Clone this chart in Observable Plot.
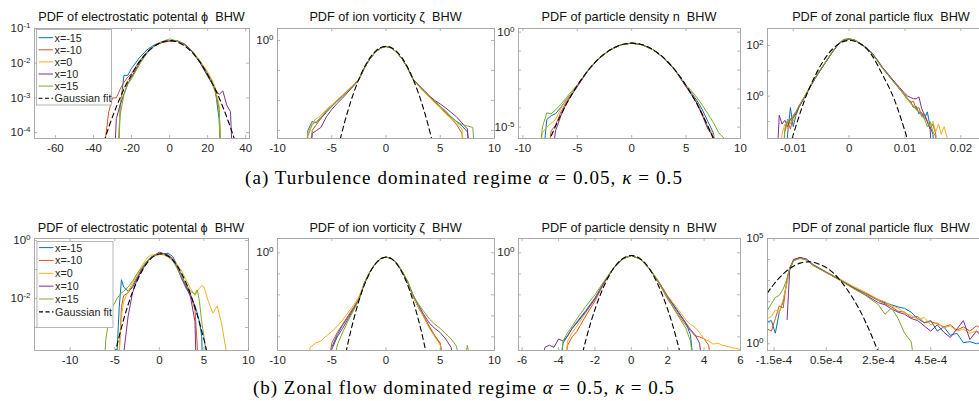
<!DOCTYPE html>
<html><head><meta charset="utf-8">
<script src="https://cdn.jsdelivr.net/npm/d3@7"></script>
<script src="https://cdn.jsdelivr.net/npm/@observablehq/plot@0.6"></script>
<style>
html,body{margin:0;padding:0;background:#fff;}
#root{position:relative;width:979px;height:401px;overflow:hidden;background:#fff;}
#root svg.plotsvg{position:absolute;}
#overlay{position:absolute;left:0;top:0;pointer-events:none;}
#overlay text{white-space:pre;}
</style></head><body><div id="root"></div>
<script>
// ---------------- DATA (values are log10 of the PDF) ----------------
const seriesNames = ["x=-15", "x=-10", "x=0", "x=10", "x=15"];
const gaussName = "Gaussian fit";

// (a) turbulence dominated, panel 1: electrostatic potential
const a1_x = [-36,-34,-32,-30,-28,-26,-24,-22,-20,-16,-12,-8,-4,0,4,8,12,16,20,22,24,26,28,30,32,34,36];
const a1_m15 = [-6,-6,-6,-6,-6,-3.3,-2.35,-2.35,-2.15,-1.85,-1.62,-1.47,-1.38,-1.37,-1.37,-1.47,-1.68,-1.98,-2.38,-2.55,-2.75,-3.6,-6,-6,-6,-6,-6];
const a1_m10 = [-6,-4.3,-3.4,-3.0,-3.0,-2.75,-2.55,-2.4,-2.3,-1.95,-1.68,-1.5,-1.4,-1.36,-1.36,-1.46,-1.66,-1.95,-2.3,-2.5,-2.8,-3.3,-6,-6,-6,-6,-6];
const a1_0   = [-6,-6,-6,-6,-6,-3.2,-2.7,-2.5,-2.4,-2.0,-1.7,-1.5,-1.4,-1.37,-1.36,-1.45,-1.65,-1.93,-2.25,-2.45,-2.7,-3.2,-6,-6,-6,-6,-6];
const a1_p10 = [-6,-6,-6,-6,-3.6,-3.2,-2.9,-2.6,-2.4,-2.02,-1.7,-1.5,-1.4,-1.36,-1.35,-1.45,-1.66,-1.98,-2.35,-2.55,-2.75,-2.9,-2.8,-3.2,-3.4,-6,-6];
const a1_p15 = [-6,-6,-6,-6,-6,-3.5,-2.9,-2.6,-2.45,-2.05,-1.72,-1.5,-1.38,-1.3,-1.36,-1.48,-1.68,-1.95,-2.3,-2.5,-2.85,-3.3,-6,-6,-6,-6,-6];
const a1_gx = [-36,-32,-28,-24,-20,-16,-12,-8,-4,0,4,8,12,16,20,24,28,32,36];
const a1_gy = [-4.51,-3.85,-3.26,-2.75,-2.33,-1.97,-1.70,-1.51,-1.39,-1.35,-1.39,-1.51,-1.70,-1.97,-2.33,-2.75,-3.26,-3.85,-4.51];
const a1_xticks = [-60,-40,-20,0,20,40];
const a1_yticks = [-1,-2,-3,-4];
const a1_ylabels = [-1,-2,-3,-4];

// (a) panel 2: ion vorticity
const a2_x = [-7.6,-7.2,-6.8,-6.4,-6,-5.5,-5,-4.5,-4,-3.5,-3,-2.5,-2,-1.5,-1,-0.5,0,0.5,1,1.5,2,2.5,3,3.5,4,4.5,5,5.5,6,6.5,7,7.5,8,8.4];
const a2_m15 = [-5,-3.0,-2.7,-2.75,-2.6,-2.4,-2.2,-2.02,-1.85,-1.65,-1.5,-1.3,-0.92,-0.62,-0.4,-0.25,-0.2,-0.25,-0.4,-0.62,-0.93,-1.3,-1.5,-1.7,-1.88,-2.05,-2.2,-2.4,-2.55,-2.7,-2.85,-3.05,-5,-5];
const a2_m10 = [-5,-5,-3.0,-2.8,-2.6,-2.35,-2.18,-2.0,-1.84,-1.66,-1.5,-1.3,-0.92,-0.62,-0.4,-0.25,-0.2,-0.25,-0.4,-0.62,-0.92,-1.3,-1.5,-1.68,-1.86,-2.03,-2.2,-2.4,-2.6,-2.8,-3.1,-5,-5,-5];
const a2_0   = [-5,-3.1,-2.75,-2.6,-2.5,-2.3,-2.15,-1.98,-1.82,-1.64,-1.48,-1.3,-0.92,-0.62,-0.4,-0.25,-0.2,-0.25,-0.4,-0.62,-0.92,-1.3,-1.52,-1.72,-1.9,-2.08,-2.25,-2.45,-2.6,-2.75,-2.95,-5,-5,-5];
const a2_p10 = [-5,-5,-3.1,-3.0,-2.9,-2.55,-2.3,-2.1,-1.92,-1.72,-1.52,-1.32,-0.92,-0.62,-0.4,-0.25,-0.2,-0.25,-0.4,-0.62,-0.92,-1.3,-1.48,-1.66,-1.85,-2.0,-2.12,-2.25,-2.4,-2.55,-2.75,-2.95,-5,-5];
const a2_p15 = [-5,-3.2,-2.8,-2.7,-2.55,-2.35,-2.2,-2.02,-1.86,-1.67,-1.5,-1.31,-0.92,-0.62,-0.4,-0.25,-0.19,-0.25,-0.4,-0.62,-0.92,-1.3,-1.5,-1.69,-1.87,-2.04,-2.2,-2.35,-2.55,-2.7,-2.8,-2.85,-2.9,-5];
const a2_gx = [-4.4,-4,-3.5,-3,-2.5,-2,-1.5,-1,-0.5,0,0.5,1,1.5,2,2.5,3,3.5,4,4.4];
const a2_gy = [-3.57,-2.98,-2.33,-1.77,-1.29,-0.90,-0.59,-0.37,-0.24,-0.20,-0.24,-0.37,-0.59,-0.90,-1.29,-1.77,-2.33,-2.98,-3.57];
const a2_xticks = [-10,-5,0,5,10];
const a2_yticks = [0,-1,-2,-3];
const a2_ylabels = [0];

// (a) panel 3: particle density
const a3_x = [-8.6,-8.2,-7.8,-7.4,-7,-6.5,-6,-5.5,-5,-4,-3,-2,-1,0,1,2,3,4,5,5.5,6,6.5,7,7.5,8,8.5,9];
const a3_m15 = [-7,-7,-4.6,-4.4,-4.3,-3.95,-3.55,-3.2,-2.82,-2.0,-1.38,-0.94,-0.67,-0.58,-0.67,-0.94,-1.38,-2.0,-2.85,-3.2,-3.6,-4.1,-4.7,-5.3,-7,-7,-7];
const a3_m10 = [-7,-7,-7,-5.2,-4.9,-4.2,-3.65,-3.25,-2.85,-2.01,-1.38,-0.94,-0.67,-0.58,-0.67,-0.94,-1.38,-2.01,-2.85,-3.25,-3.7,-4.3,-5.0,-5.5,-7,-7,-7];
const a3_0   = [-7,-5.3,-5.0,-4.8,-4.6,-4.0,-3.55,-3.22,-2.84,-2.0,-1.38,-0.94,-0.67,-0.58,-0.67,-0.94,-1.38,-2.0,-2.85,-3.25,-3.7,-4.3,-4.95,-5.4,-7,-7,-7];
const a3_p10 = [-7,-7,-7,-7,-5.2,-4.4,-3.75,-3.3,-2.87,-2.02,-1.39,-0.94,-0.67,-0.58,-0.67,-0.94,-1.39,-2.02,-2.88,-3.3,-3.75,-4.4,-5.1,-5.5,-7,-7,-7];
const a3_p15 = [-7,-5.0,-4.25,-4.3,-4.1,-3.8,-3.45,-3.1,-2.78,-1.98,-1.37,-0.94,-0.67,-0.57,-0.67,-0.94,-1.37,-1.98,-2.8,-3.1,-3.45,-3.85,-4.3,-4.75,-5.3,-5.6,-7];
const a3_gx = [-8,-7,-6,-5,-4,-3,-2,-1,0,1,2,3,4,5,6,7,8];
const a3_gy = [-6.29,-4.95,-3.79,-2.81,-2.01,-1.38,-0.94,-0.67,-0.58,-0.67,-0.94,-1.38,-2.01,-2.81,-3.79,-4.95,-6.29];
const a3_xticks = [-10,-5,0,5,10];
const a3_yticks = [0,-1,-2,-3,-4,-5];
const a3_ylabels = [0,-5];

// (a) panel 4: zonal particle flux (x in units of 1e-3)
const a4_xk = [-13,-12.5,-12,-11.5,-11,-10.5,-10,-9.5,-9,-8,-7,-6,-5,-4,-3,-2,-1,0,1,2,3,4,5,6,7,8,9,10,10.5,11,11.5,12,12.5,13,13.5,14,14.5,15,15.5,16,16.5,17,17.5,18];
const a4_m15 = [-3,-3,-3,-3,-1.5,-0.45,-1.2,-0.75,-0.45, -0.05,0.35,0.73,1.07,1.4,1.73,2.03,2.21,2.25,2.2,2.06,1.9,1.7,1.42,1.1,0.84,0.56,0.3,0.02, -0.15,-0.2,-0.45,-0.4,-0.7,-0.65,-0.9,-0.62,-1.2,-1.5,-3,-3,-3,-3,-3,-3];
const a4_m10 = [-3,-3,-3,-1.4,-1.0,-1.3,-0.8,-0.65,-0.4, -0.02,0.37,0.76,1.09,1.42,1.75,2.05,2.23,2.26,2.21,2.07,1.92,1.71,1.43,1.1,0.83,0.57,0.3,0.05, -0.1,-0.25,-0.2,-0.5,-0.45,-0.8,-0.7,-1.0,-1.3,-1.1,-1.5,-3,-3,-3,-3,-3];
const a4_0   = [-3,-3,-1.5,-1.1,-1.3,-0.9,-1.0,-0.7,-0.45, -0.05,0.35,0.74,1.08,1.41,1.74,2.04,2.22,2.25,2.21,2.08,1.92,1.72,1.44,1.12,0.85,0.58,0.3,0.0, -0.12,-0.3,-0.35,-0.55,-0.6,-0.8,-0.85,-1.0,-1.2,-1.0,-1.4,-1.1,-1.5,-1.2,-1.6,-3];
const a4_p10 = [-3,-0.75,-1.1,-0.95,-1.2,-0.9,-0.85,-0.7,-0.45, -0.06,0.34,0.73,1.07,1.4,1.73,2.03,2.21,2.25,2.22,2.08,1.93,1.73,1.45,1.13,0.87,0.6,0.35,0.1, 0.0,-0.05,-0.1,-0.1,-0.03,-0.5,-0.75,-1.0,-1.3,-3,-3,-3,-3,-3,-3,-3];
const a4_p15 = [-3,-3,-3,-1.3,-0.9,-1.1,-0.75,-0.6,-0.4, -0.03,0.37,0.76,1.09,1.42,1.75,2.05,2.24,2.27,2.22,2.07,1.91,1.7,1.41,1.09,0.82,0.55,0.28,0.0, -0.15,-0.25,-0.4,-0.52,-0.6,-0.75,-0.9,-1.2,-1.0,-1.4,-1.6,-3,-3,-3,-3,-3];
const a4_gxk = [-11,-10,-8,-6,-4,-2,0,2,4,6,8,10,11];
const a4_gy = [-2.3,-1.53,-0.18,0.84,1.59,2.04,2.2,2.07,1.64,0.84,-0.08,-1.38,-2.14];
const a4_xticks = [-0.01,0,0.01,0.02];
const a4_yticks = [2,1,0,-1];
const a4_ylabels = [2,0];

// (b) zonal flow dominated, panel 1: electrostatic potential
const b1_x = [-6.5,-6,-5.5,-5,-4.75,-4.5,-4.25,-4,-3.5,-3,-2.5,-2,-1.5,-1,-0.5,0,0.5,1,1.5,2,2.5,3,3.5,4,4.25,4.5,4.75,5,5.25,5.5,6,6.5,7,7.5,8];
const b1_m15 = [-6,-6,-6,-6,-3.9,-2.3,-1.35,-1.6, -1.75,-1.62,-1.3,-1.05,-0.8,-0.6,-0.5,-0.46,-0.45,-0.44,-0.55,-0.85,-1.2,-1.55,-1.9,-2.25, -2.5,-2.8,-3.3,-6,-6,-6, -6,-6,-6,-6,-6];
const b1_m10 = [-6,-6,-6,-6,-6,-3.9,-2.3,-1.9, -1.8,-1.55,-1.25,-1.0,-0.78,-0.6,-0.52,-0.48,-0.45,-0.5,-0.62,-0.9,-1.3,-1.65,-1.85,-2.4, -3.6,-6,-6,-6,-6,-6, -6,-6,-6,-6,-6];
const b1_0   = [-6,-6,-6,-6,-6,-3.8,-2.6,-2.1, -1.75,-1.45,-1.15,-0.9,-0.65,-0.5,-0.5,-0.47,-0.5,-0.58,-0.7,-0.82,-1.05,-1.35,-1.65,-1.9, -1.75,-1.65,-1.55,-1.6,-1.85,-2.1, -2.5,-2.25,-2.9,-3.8,-6];
const b1_p10 = [-6,-6,-6,-6,-6,-6,-6,-3.9, -2.6,-1.8,-1.35,-1.0,-0.75,-0.58,-0.5,-0.4,-0.45,-0.5,-0.65,-0.95,-1.3,-1.6,-1.95,-2.8, -6,-6,-6,-6,-6,-6, -6,-6,-6,-6,-6];
const b1_p15 = [-6,-3.4,-2.4,-2.15,-2.0,-1.9,-1.8,-1.75, -1.6,-1.4,-1.15,-0.95,-0.75,-0.6,-0.5,-0.45,-0.47,-0.55,-0.7,-0.95,-1.25,-1.5,-1.75,-1.85, -1.7,-2.1,-2.8,-3.3,-3.9,-6, -6,-6,-6,-6,-6];
const b1_gx = [-5,-4,-3,-2,-1,0,1,2,3,4,5,5.5];
const b1_gy = [-3.92,-2.72,-1.77,-1.08,-0.64,-0.465,-0.54,-0.87,-1.46,-2.31,-3.41,-4.06];
const b1_xticks = [-10,-5,0,5,10];
const b1_yticks = [0,-1,-2,-3];
const b1_ylabels = [0,-2];

// (b) panel 2: ion vorticity
const b2_x = [-7.5,-7,-6.5,-6,-5.5,-5,-4.5,-4,-3.5,-3,-2.5,-2,-1.5,-1,-0.5,0,0.5,1,1.5,2,2.5,3,3.5,4,4.5,5,5.5,6,6.5,7,7.5,8];
const b2_m15 = [-6,-6,-6,-6,-6,-4.5,-3.9,-3.45,-3.05,-2.65,-2.2, -1.45,-0.92,-0.53,-0.28,-0.2,-0.27,-0.5,-0.9,-1.4, -2.1,-2.6,-3.05,-3.55,-3.95,-4.35,-6,-6,-6,-6,-6,-6];
const b2_m10 = [-6,-6,-6,-6,-6,-4.3,-3.8,-3.4,-3.0,-2.6,-2.2, -1.45,-0.92,-0.53,-0.28,-0.2,-0.27,-0.5,-0.9,-1.4, -2.1,-2.6,-3.05,-3.5,-3.95,-4.3,-6,-6,-6,-6,-6,-6];
const b2_0   = [-6,-4.5,-4.3,-4.2,-3.95,-3.75,-3.5,-3.2,-2.85,-2.5,-2.1, -1.42,-0.9,-0.52,-0.28,-0.2,-0.27,-0.5,-0.9,-1.4, -2.1,-2.6,-3.1,-3.6,-4.0,-4.4,-6,-6,-6,-6,-6,-6];
const b2_p10 = [-6,-6,-6,-6,-6,-4.6,-4.0,-3.6,-3.15,-2.7,-2.25, -1.47,-0.93,-0.53,-0.28,-0.2,-0.27,-0.5,-0.9,-1.38, -2.0,-2.5,-2.95,-3.35,-3.6,-3.8,-4.1,-4.5,-6,-6,-6,-6];
const b2_p15 = [-6,-6,-6,-6,-6,-6,-4.4,-3.8,-3.25,-2.75,-2.25, -1.47,-0.93,-0.53,-0.28,-0.2,-0.27,-0.5,-0.88,-1.35, -2.05,-2.45,-2.8,-3.15,-3.4,-3.6,-3.85,-4.1,-4.45,-6,-4.4,-6];
const b2_gx = [-4,-3.5,-3,-2.5,-2,-1.5,-1,-0.5,0,0.5,1,1.5,2,2.5,3,3.5,4];
const b2_gy = [-5.54,-4.29,-3.21,-2.29,-1.54,-0.96,-0.54,-0.29,-0.21,-0.29,-0.54,-0.96,-1.54,-2.29,-3.21,-4.29,-5.54];
const b2_xticks = [-10,-5,0,5,10];
const b2_yticks = [0,-1,-2,-3,-4];
const b2_ylabels = [0];

// (b) panel 3: particle density
const b3_x = [-5,-4.75,-4.5,-4.25,-4,-3.75,-3.5,-3.25,-3,-2.5,-2,-1.5,-1,-0.5,0,0.5,1,1.5,2,2.5,3,3.25,3.5,3.75,4,4.25,4.5,4.75,5,5.25,5.5,6];
const b3_m15 = [-6,-6,-6,-6,-6,-4.3,-3.95,-3.6,-3.3, -2.75,-2.15,-1.4,-0.75,-0.3,-0.13,-0.3,-0.76,-1.4,-2.1,-2.7,-3.35, -3.9,-6,-6,-6,-6,-6,-6,-6,-6,-6, -6];
const b3_m10 = [-6,-6,-6,-6,-6,-6,-4.4,-4.0,-3.75, -3.0,-2.3,-1.45,-0.77,-0.3,-0.13,-0.3,-0.77,-1.42,-2.2,-2.85,-3.45, -3.7,-3.95,-4.0,-4.1,-4.4,-6,-6,-6,-6,-6, -6];
const b3_0   = [-6,-6,-6,-6,-6,-6,-4.2,-3.8,-3.5, -2.85,-2.2,-1.42,-0.76,-0.3,-0.13,-0.3,-0.74,-1.35,-2.05,-2.6,-3.2, -3.4,-3.55,-3.8,-4.1,-4.2,-4.35,-4.3,-4.4,-4.45,-4.5, -4.6];
const b3_p10 = [-6,-4.5,-4.4,-4.5,-4.1,-4.2,-3.95,-3.6,-3.35, -2.8,-2.2,-1.42,-0.76,-0.3,-0.13,-0.3,-0.76,-1.38,-2.1,-2.75,-3.35, -3.65,-3.9,-4.3,-6,-6,-6,-6,-6,-6,-6, -6];
const b3_p15 = [-6,-6,-6,-6,-6,-4.2,-3.8,-3.5,-3.15, -2.55,-2.0,-1.35,-0.74,-0.3,-0.13,-0.3,-0.76,-1.4,-2.15,-2.9,-3.6, -4.2,-6,-6,-6,-6,-6,-6,-6,-6,-6, -6];
const b3_gx = [-3,-2.5,-2,-1.5,-1,-0.5,0,0.5,1,1.5,2,2.5,3];
const b3_gy = [-5.92,-4.15,-2.7,-1.58,-0.77,-0.29,-0.13,-0.29,-0.77,-1.58,-2.7,-4.15,-5.92];
const b3_xticks = [-6,-4,-2,0,2,4,6];
const b3_yticks = [0,-1,-2,-3,-4];
const b3_ylabels = [0];

// (b) panel 4: zonal particle flux (x in units of 1e-4)
const b4_xu = [-1.75,-1.6,-1.45,-1.3,-1.15,-1.0,-0.9,-0.75,-0.5,-0.25,0,0.5,1,1.5,2,2.5,2.75,3,3.25,3.5,3.75,4,4.25,4.5,4.75,5,5.25,5.5,5.75,6,6.25,6.5,6.8];
const b4_m15 = [1.05,1.1,0.5,1.5,2.0,3.0,3.6,3.95,4.08,3.98,3.73, 3.4,3.05,2.7,2.4,2.1, 1.95,1.85,1.75,1.68,1.5,1.2,1.0,1.1,0.6,0.8,0.4,0.5,0.05,0.1,0.0,0.1, 0.0];
const b4_m10 = [0.7,0.6,1.2,1.8,1.7,3.1,3.6,4.0,4.1,4.0,3.72, 3.38,3.05,2.7,2.38,2.05, 1.9,1.75,1.55,1.5,1.25,1.3,1.0,1.05,0.95,0.8,0.9,0.65,0.8,0.6,0.85,0.7, 0.75];
const b4_0   = [1.2,1.3,1.6,1.5,2.1,2.9,3.5,3.95,4.05,3.98,3.75, 3.42,3.1,2.75,2.45,2.1, 2.0,1.8,1.7,1.45,1.35,1.15,1.25,0.9,1.0,0.75,0.85,0.6,0.7,0.5,0.6,0.45, 0.5];
const b4_p10 = [null,null,null,null,null,1.15,3.5,4.0,4.1,4.02,3.76, 3.4,3.05,2.68,2.32,1.95, 1.85,1.65,1.5,1.4,1.2,1.1,0.85,0.6,0.9,0.55,0.3,0.7,1.1,0.2,0.6,0.3, 0.35];
const b4_p15 = [1.6,1.9,2.2,2.3,2.6,3.1,3.55,3.95,4.05,3.98,3.72, 3.38,3.03,2.65,2.3,1.85, 1.4,1.7,1.2,0.5,0.1,-2,null,null,null,null,null,null,null,null,null,null, null];
const b4_gxu = [-1.75,-1.5,-1,-0.5,-0.18,0,0.5,1,1.5,2,2.5];
const b4_gy = [2.41,2.84,3.48,3.83,3.89,3.87,3.62,3.06,2.2,1.05,-0.41];
const b4_xticks = [-1.5e-4,0.5e-4,2.5e-4,4.5e-4];
const b4_xtickLabels = ["-1.5e-4","0.5e-4","2.5e-4","4.5e-4"];
const b4_yticks = [5,4,3,2,1,0];
const b4_ylabels = [5,0];

// ---------------- LAYOUT / STYLE ----------------
const colors = ["#0072BD","#D95319","#EDB120","#7E2F8E","#77AC30"];
const frameColor = "#a3a3a3";
const textColor = "#262626";
const FONT = "'Liberation Sans', Arial, Helvetica, sans-serif";
const NS = "http://www.w3.org/2000/svg";

const panels = [
  {title:"PDF of electrostatic potental \u03D5  BHW", frame:[34,28,249,138], xs:a1_x, series:[a1_m15,a1_m10,a1_0,a1_p10,a1_p15], gx:a1_gx, gy:a1_gy,
   xDomain:[-71,42], yDomain:[-4.17,-1], xticks:a1_xticks, yticks:a1_yticks, ylabels:a1_ylabels},
  {title:"PDF of ion vorticity \u03B6  BHW", frame:[277,28,494,138], xs:a2_x, series:[a2_m15,a2_m10,a2_0,a2_p10,a2_p15], gx:a2_gx, gy:a2_gy,
   xDomain:[-10,10], yDomain:[-3.27,0.4], xticks:a2_xticks, yticks:a2_yticks, ylabels:a2_ylabels},
  {title:"PDF of particle density n  BHW", frame:[518,28,740,138], xs:a3_x, series:[a3_m15,a3_m10,a3_0,a3_p10,a3_p15], gx:a3_gx, gy:a3_gy,
   xDomain:[-10.4,10], yDomain:[-5.6,0.19], xticks:a3_xticks, yticks:a3_yticks, ylabels:a3_ylabels},
  {title:"PDF of zonal particle flux  BHW", frame:[767,28,995,138], xs:a4_xk.map(v=>v*1e-3), series:[a4_m15,a4_m10,a4_0,a4_p10,a4_p15], gx:a4_gxk.map(v=>v*1e-3), gy:a4_gy,
   xDomain:[-0.0146,0.0262], yDomain:[-1.67,2.67], xticks:a4_xticks, yticks:a4_yticks, ylabels:a4_ylabels},
  {title:"PDF of electrostatic potental \u03D5  BHW", frame:[34,238,248,350], xs:b1_x, series:[b1_m15,b1_m10,b1_0,b1_p10,b1_p15], gx:b1_gx, gy:b1_gy,
   xDomain:[-14,10], yDomain:[-3.79,0.07], xticks:b1_xticks, yticks:b1_yticks, ylabels:b1_ylabels},
  {title:"PDF of ion vorticity \u03B6  BHW", frame:[277,238,494,350], xs:b2_x, series:[b2_m15,b2_m10,b2_0,b2_p10,b2_p15], gx:b2_gx, gy:b2_gy,
   xDomain:[-10,10], yDomain:[-4.65,0.68], xticks:b2_xticks, yticks:b2_yticks, ylabels:b2_ylabels},
  {title:"PDF of particle density n  BHW", frame:[518,238,740,350], xs:b3_x, series:[b3_m15,b3_m10,b3_0,b3_p10,b3_p15], gx:b3_gx, gy:b3_gy,
   xDomain:[-6.2,6], yDomain:[-4.65,0.68], xticks:b3_xticks, yticks:b3_yticks, ylabels:b3_ylabels},
  {title:"PDF of zonal particle flux  BHW", frame:[767,238,995,350], xs:b4_xu.map(v=>v*1e-4), series:[b4_m15,b4_m10,b4_0,b4_p10,b4_p15], gx:b4_gxu.map(v=>v*1e-4), gy:b4_gy,
   xDomain:[-1.75e-4,6.98e-4], yDomain:[-0.32,5], xticks:b4_xticks, xlabels:b4_xtickLabels, yticks:b4_yticks, ylabels:b4_ylabels}
];

const root = document.getElementById("root");

function drawPanel(p) {
  const [x0, y0, x1, y1] = p.frame;
  const W = x1 - x0, H = y1 - y0;
  const mL = 44, mR = 4, mT = 6, mB = 24, tl = 3;
  const marks = [];
  p.series.forEach((vals, i) => {
    const rows = p.xs.map((x, j) => ({x, y: vals[j] == null ? NaN : Math.pow(10, vals[j])}));
    marks.push(Plot.line(rows, {x: "x", y: "y", stroke: colors[i], strokeWidth: 1, clip: true}));
  });
  const grows = p.gx.map((x, j) => ({x, y: Math.pow(10, p.gy[j])}));
  marks.push(Plot.line(grows, {x: "x", y: "y", stroke: "#000", strokeWidth: 1.1, strokeDasharray: "5,3.5", curve: "natural", clip: true}));
  const yt = p.yticks.map(k => Math.pow(10, k));
  const ruleStyle = {stroke: frameColor, strokeWidth: 0.8};
  marks.push(Plot.ruleX(p.xticks, {x: d => d, insetTop: H - tl, ...ruleStyle}));
  marks.push(Plot.ruleX(p.xticks, {x: d => d, insetBottom: H - tl, ...ruleStyle}));
  marks.push(Plot.ruleY(yt, {y: d => d, insetRight: W - tl, ...ruleStyle}));
  marks.push(Plot.ruleY(yt, {y: d => d, insetLeft: W - tl, ...ruleStyle}));
  marks.push(Plot.frame({stroke: frameColor, strokeWidth: 0.9}));
  const xfmt = p.xlabels ? (d => p.xlabels[p.xticks.indexOf(d)]) : (d => String(d));
  marks.push(Plot.axisX(p.xticks, {tickSize: 0, tickPadding: 5, tickFormat: xfmt, fill: textColor, label: null}));
  marks.push(Plot.axisY(yt, {tickSize: 0, tickPadding: 4, fill: textColor, label: null,
    tickFormat: d => { const k = Math.round(Math.log10(d)); return p.ylabels.includes(k) ? "10^" + k : ""; }}));
  const svg = Plot.plot({
    width: W + mL + mR, height: H + mT + mB,
    marginLeft: mL, marginRight: mR, marginTop: mT, marginBottom: mB,
    style: {fontFamily: FONT, fontSize: "11.5px", color: textColor, background: "transparent", overflow: "visible"},
    x: {domain: p.xDomain, label: null},
    y: {type: "log", domain: [Math.pow(10, p.yDomain[0]), Math.pow(10, p.yDomain[1])], label: null},
    marks
  });
  svg.classList.add("plotsvg");
  svg.style.left = (x0 - mL) + "px";
  svg.style.top = (y0 - mT) + "px";
  svg.style.maxWidth = "none";
  // superscript exponents on the y tick labels
  svg.querySelectorAll('[aria-label="y-axis tick label"] text').forEach(t => {
    const s = t.textContent;
    if (!s.startsWith("10^")) return;
    const e = s.slice(3);
    t.textContent = "";
    const a = document.createElementNS(NS, "tspan"); a.textContent = "10"; t.appendChild(a);
    const b = document.createElementNS(NS, "tspan"); b.textContent = e;
    b.setAttribute("dy", "-0.5em"); b.setAttribute("font-size", "8px"); t.appendChild(b);
  });
  root.appendChild(svg);
}
panels.forEach(drawPanel);

// ---------------- overlay: titles, legends, captions ----------------
const ov = document.createElementNS(NS, "svg");
ov.setAttribute("id", "overlay");
ov.setAttribute("width", 979); ov.setAttribute("height", 401);
root.appendChild(ov);
function el(tag, attrs, text) {
  const e = document.createElementNS(NS, tag);
  for (const k in attrs) e.setAttribute(k, attrs[k]);
  if (text != null) e.textContent = text;
  ov.appendChild(e);
  return e;
}
panels.forEach((p, i) => {
  const [x0, y0, x1] = p.frame;
  el("text", {x: (x0 + x1) / 2, y: i < 4 ? 20.5 : 232, "text-anchor": "middle", "font-family": FONT,
    "font-size": "12.7px", fill: "#111"}, p.title);
});
function legend(x, y, w, h, r0, dr) {
  el("rect", {x, y, width: w, height: h, fill: "#fff", stroke: frameColor, "stroke-width": 0.8});
  const labels = [...seriesNames, gaussName];
  labels.forEach((lab, i) => {
    const yy = r0 + dr * i;
    el("line", {x1: x + 2, x2: x + 16.5, y1: yy, y2: yy, stroke: i < 5 ? colors[i] : "#000",
      "stroke-width": i < 5 ? 1 : 1.1, "stroke-dasharray": i < 5 ? "none" : "4,2.5"});
    el("text", {x: x + 18, y: yy, "dominant-baseline": "central", "font-family": FONT, "font-size": "10.8px", fill: textColor}, lab);
  });
}
legend(36.5, 29.5, 75, 75.5, 37.7, 12.1);
legend(37, 241.5, 76, 86, 247.6, 12.85);

function caption(y, parts, target) {
  const t = el("text", {x: 464, y, "text-anchor": "middle", "font-family": "'Liberation Serif', 'Times New Roman', serif", "font-size": "19px", fill: "#000"});
  parts.forEach(([s, it]) => {
    const ts = document.createElementNS(NS, "tspan");
    ts.textContent = s;
    if (it) ts.setAttribute("font-style", "italic");
    t.appendChild(ts);
  });
  const len = t.getComputedTextLength();
  const n = t.textContent.length;
  if (len > 0 && n > 1) t.setAttribute("letter-spacing", ((target - len) / n).toFixed(2) + "px");
}
caption(184, [["(a) Turbulence dominated regime ", false], ["\u03B1", true], [" = 0.05, ", false], ["\u03BA", true], [" = 0.5", false]], 438);
caption(394, [["(b) Zonal flow dominated regime ", false], ["\u03B1", true], [" = 0.5, ", false], ["\u03BA", true], [" = 0.5", false]], 422);
</script></body></html>
